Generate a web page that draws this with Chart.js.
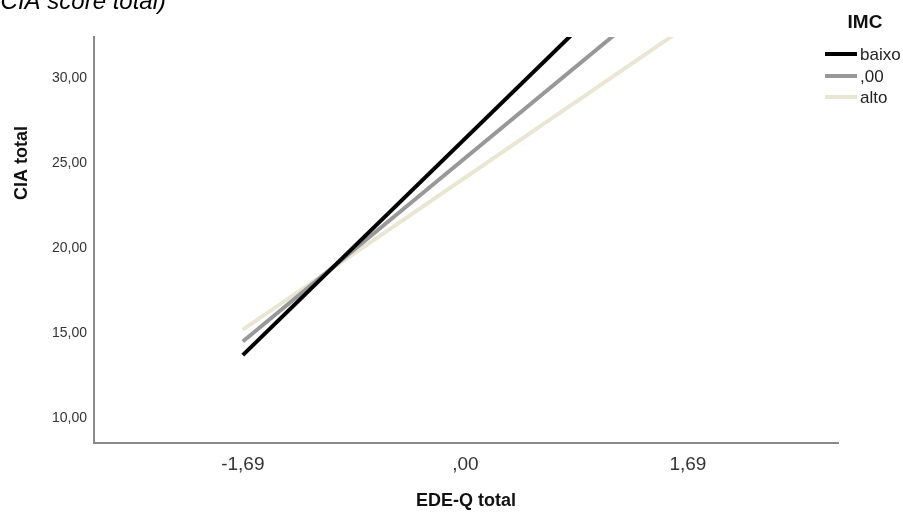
<!DOCTYPE html>
<html>
<head>
<meta charset="utf-8">
<script src="https://cdn.jsdelivr.net/npm/chart.js@4"></script>
<style>
    html, body { margin: 0; padding: 0; background: #fff; }
    #wrap { width: 903px; height: 517px; position: relative; overflow: hidden; }
</style>
</head>
<body>
<div id="wrap"><canvas id="chart1" width="903" height="517"></canvas></div>
<script>
// Data
const edeqX = [-1.69, 1.69];
const ciaBaixo = [13.7, 39.2];
const ciaMedio = [14.5, 36.1];
const ciaAlto = [15.2, 33.1];

const groupLabels = ["baixo", ",00", "alto"];
const groupColors = ["#000000", "#989898", "#ebe6d3"];

const xTickValues = [-1.69, 0, 1.69];
const xTickLabels = ["-1,69", ",00", "1,69"];
const yTickValues = [10, 15, 20, 25, 30];
const yTickLabels = ["10,00", "15,00", "20,00", "25,00", "30,00"];

let chart1 = null;

// teks tambahan: judul terpotong, judul sumbu Y, legenda
const extraText = {
    id: "extraText",
    afterDraw(chart) {
        const ctx = chart.ctx;
        ctx.save();

        // judul atas (terpotong oleh tepi gambar)
        ctx.fillStyle = "#000";
        ctx.font = "italic 24px 'Liberation Sans'";
        ctx.textAlign = "right";
        ctx.textBaseline = "alphabetic";
        ctx.fillText("(CIA score total)", 166, 9);

        // judul sumbu Y
        ctx.save();
        ctx.translate(22, 163);
        ctx.rotate(-Math.PI / 2);
        ctx.font = "bold 18px 'Liberation Sans'";
        ctx.textAlign = "center";
        ctx.textBaseline = "middle";
        ctx.fillStyle = "#111";
        ctx.fillText("CIA total", 0, 0);
        ctx.restore();

        // legenda
        ctx.font = "bold 19px 'Liberation Sans'";
        ctx.textAlign = "center";
        ctx.textBaseline = "middle";
        ctx.fillStyle = "#111";
        ctx.fillText("IMC", 865, 23);

        const rowY = [54, 76, 97];
        ctx.font = "17px 'Liberation Sans'";
        ctx.textAlign = "left";
        groupLabels.forEach((label, i) => {
            ctx.strokeStyle = groupColors[i];
            ctx.lineWidth = 4;
            ctx.beginPath();
            ctx.moveTo(825, rowY[i]);
            ctx.lineTo(857, rowY[i]);
            ctx.stroke();
            ctx.fillStyle = "#222";
            ctx.fillText(label, 860, rowY[i] + 1);
        });

        ctx.restore();
    },
};

function makeSeries(values) {
    return edeqX.map((x, i) => ({ x, y: values[i] }));
}

function initializeChart1() {
    const ctx1 = document.getElementById("chart1")?.getContext("2d");
    if (!ctx1) return;

    const seriesValues = [ciaBaixo, ciaMedio, ciaAlto];

    chart1 = new Chart(ctx1, {
        type: "line",
        data: {
            datasets: seriesValues.map((values, i) => ({
                label: groupLabels[i],
                data: makeSeries(values),
                borderColor: groupColors[i],
                backgroundColor: groupColors[i],
                borderWidth: 4,
                pointRadius: 0,
                fill: false,
                clip: 0,
            })),
        },
        options: {
            responsive: false,
            animation: false,
            layout: {
                padding: { top: 37, right: 65, left: 0, bottom: 0 },
            },
            plugins: {
                legend: { display: false },
                tooltip: { enabled: false },
            },
            scales: {
                x: {
                    type: "linear",
                    min: -2.82,
                    max: 2.83,
                    grid: { display: false, drawTicks: false },
                    border: { color: "#8a8a8a", width: 2 },
                    afterBuildTicks: (scale) => {
                        scale.ticks = xTickValues.map((v) => ({ value: v }));
                    },
                    afterFit: (scale) => {
                        scale.height = 74;
                    },
                    ticks: {
                        padding: 10,
                        color: "#333",
                        font: { family: "Liberation Sans", size: 19 },
                        callback: (value, index) => xTickLabels[index],
                    },
                    title: {
                        display: true,
                        text: "EDE-Q total",
                        color: "#111",
                        font: { family: "Liberation Sans", size: 18, weight: "bold" },
                        padding: { top: 0, bottom: 5 },
                    },
                },
                y: {
                    type: "linear",
                    min: 8.53,
                    max: 32.41,
                    grid: { display: false, drawTicks: false },
                    border: { color: "#8a8a8a", width: 2 },
                    afterBuildTicks: (scale) => {
                        scale.ticks = yTickValues.map((v) => ({ value: v }));
                    },
                    afterFit: (scale) => {
                        scale.width = 94;
                    },
                    ticks: {
                        padding: 7,
                        color: "#333",
                        font: { family: "Liberation Sans", size: 14 },
                        callback: (value, index) => yTickLabels[index],
                    },
                },
            },
        },
        plugins: [extraText],
    });
}

document.addEventListener("DOMContentLoaded", initializeChart1);
</script>
</body>
</html>
